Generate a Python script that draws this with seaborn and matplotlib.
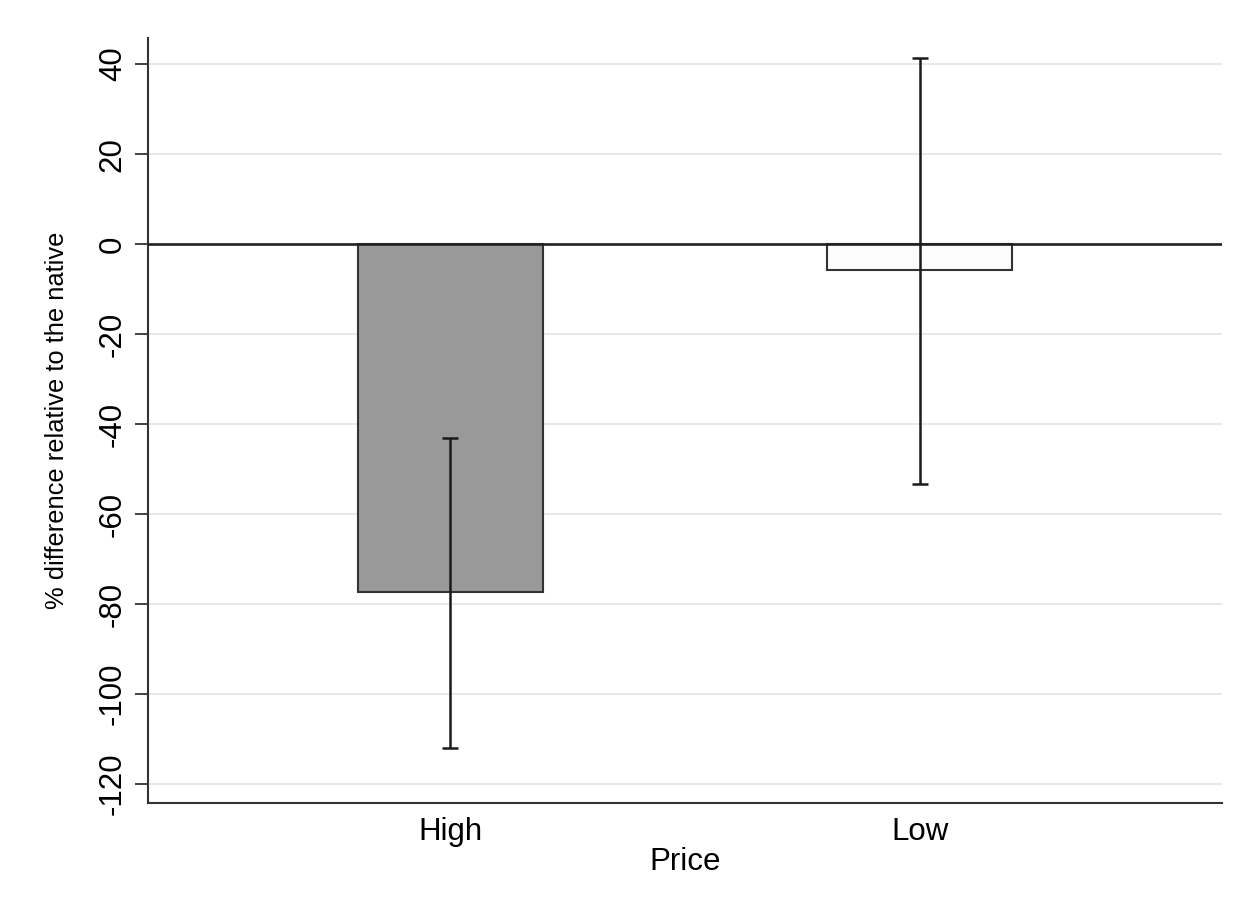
import numpy as np
import pandas as pd
import matplotlib
matplotlib.use("Agg")
import matplotlib.pyplot as plt
import seaborn as sns

categories = ["High", "Low"]
values = [-77.3, -5.8]
ci_low = [-111.9, -53.3]
ci_high = [-43.1, 41.3]
bar_colors = ["#999999", "#fcfcfc"]
yticks = [40, 20, 0, -20, -40, -60, -80, -100, -120]

sns.set_theme(style="white")
plt.rcParams["font.family"] = ["Liberation Sans", "DejaVu Sans"]
plt.rcParams["axes.unicode_minus"] = False
plt.rcParams["text.color"] = "black"
plt.rcParams["axes.labelcolor"] = "black"
plt.rcParams["xtick.color"] = "black"
plt.rcParams["ytick.color"] = "black"

df = pd.DataFrame({"Price": categories, "value": values})

fig = plt.figure(figsize=(12.52, 9.07), dpi=100)
ax = fig.add_axes([148 / 1252, 1 - 803 / 907, (1222 - 148) / 1252, (803 - 38) / 907])

sns.barplot(data=df, x="Price", y="value", hue="Price", palette=bar_colors,
            width=0.394, edgecolor="#333333", linewidth=1.5, legend=False,
            ax=ax, zorder=2)

ax.axhline(0, color="#222222", lw=1.9, zorder=3)

vals = np.array(values)
yerr = np.vstack([vals - np.array(ci_low), np.array(ci_high) - vals])
ax.errorbar(np.arange(len(categories)), vals, yerr=yerr, fmt="none",
            ecolor="#1a1a1a", elinewidth=1.8, capsize=5.5, capthick=1.8, zorder=4)

ax.set_xlim(-0.643, 1.643)
ax.set_ylim(-124.2, 45.8)
ax.set_yticks(yticks)
ax.set_yticklabels([str(t) for t in yticks], rotation=90, va="center")
ax.grid(axis="y", color="#e6e6e6", lw=1.3, zorder=0)
ax.grid(axis="x", visible=False)
ax.set_axisbelow(True)

for s in ["top", "right"]:
    ax.spines[s].set_visible(False)
for s in ["left", "bottom"]:
    ax.spines[s].set_color("#333333")
    ax.spines[s].set_linewidth(1.5)

ax.tick_params(axis="y", direction="out", length=9.5, width=1.3, color="#333333",
               labelsize=22.5, pad=5, left=True, labelcolor="black")
ax.tick_params(axis="x", length=0, labelsize=22.5, pad=10, labelcolor="black")

ax.set_xlabel("Price", fontsize=22.5, labelpad=0, color="black")
ax.set_ylabel("% difference relative to the native", fontsize=18.4, labelpad=21, color="black")

fig.savefig("out.png", dpi=100, facecolor="white")
